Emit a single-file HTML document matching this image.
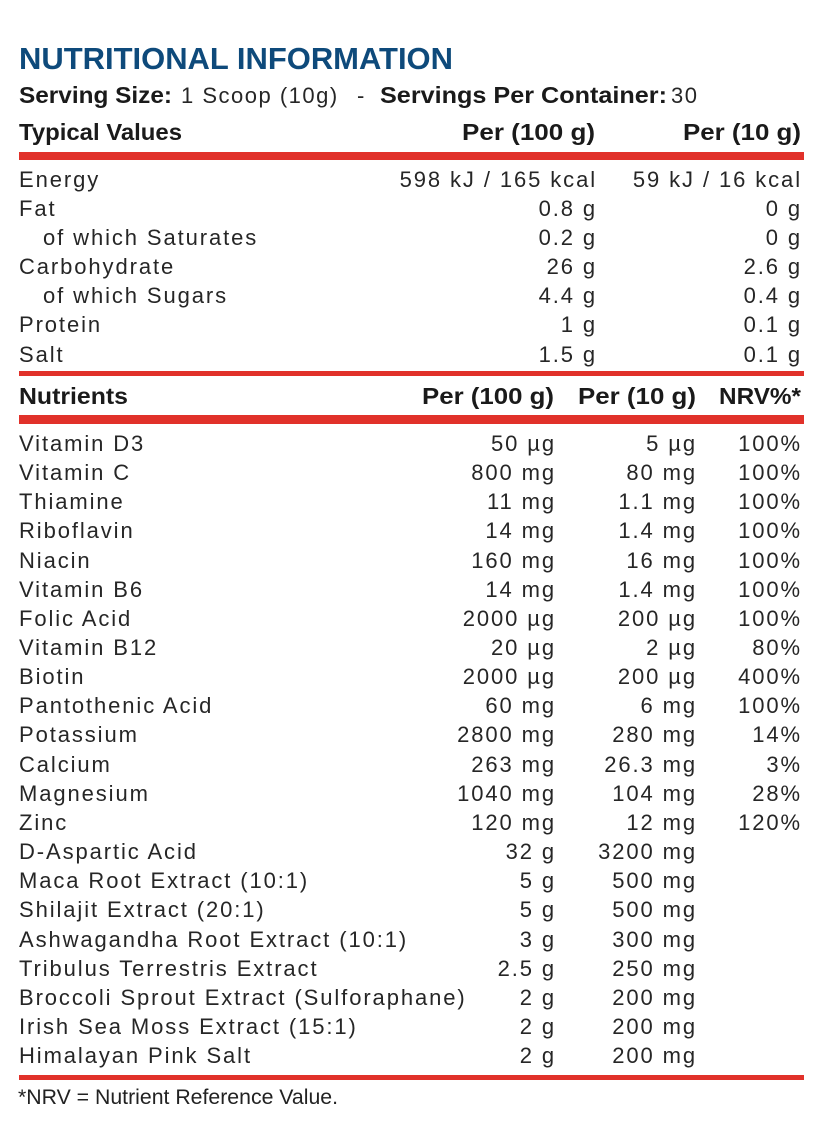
<!DOCTYPE html>
<html><head><meta charset="utf-8"><style>
html,body{margin:0;padding:0;background:#fff;}
svg{display:block;}
.b{font-family:"Liberation Sans",sans-serif;font-weight:bold;fill:#1a1a1a;font-size:23px;}
.r{font-family:"Liberation Sans",sans-serif;fill:#262626;font-size:22px;letter-spacing:1.9px;}
.e{text-anchor:end;}
</style></head><body>
<svg width="840" height="1124" viewBox="0 0 840 1124" xmlns="http://www.w3.org/2000/svg">
<rect width="840" height="1124" fill="#fff"/>
<text x="19" y="69" font-family="Liberation Sans, sans-serif" font-weight="bold" font-size="31" fill="#0e4a7b" textLength="434" lengthAdjust="spacingAndGlyphs">NUTRITIONAL INFORMATION</text>

<text class="b" x="19" y="103" textLength="153" lengthAdjust="spacingAndGlyphs">Serving Size:</text>
<text class="r" x="181" y="103" style="font-size:22px;letter-spacing:1.5px">1 Scoop (10g)</text>
<text class="r" x="357" y="103" style="font-size:22px">-</text>
<text class="b" x="380" y="103" textLength="287" lengthAdjust="spacingAndGlyphs">Servings Per Container:</text>
<text class="r" x="671" y="103" style="font-size:22px;letter-spacing:1.5px">30</text>

<text class="b" x="19" y="140" textLength="163" lengthAdjust="spacingAndGlyphs">Typical Values</text>
<text class="b" x="462" y="140" textLength="133" lengthAdjust="spacingAndGlyphs">Per (100 g)</text>
<text class="b" x="683" y="140" textLength="118" lengthAdjust="spacingAndGlyphs">Per (10 g)</text>
<rect x="19" y="152" width="785" height="8" fill="#e1312a"/>

<g class="r">
<text x="19" y="187">Energy</text><text class="e" x="597" y="187">598 kJ / 165 kcal</text><text class="e" x="802" y="187">59 kJ / 16 kcal</text>
<text x="19" y="216">Fat</text><text class="e" x="597" y="216">0.8 g</text><text class="e" x="802" y="216">0 g</text>
<text x="43" y="245">of which Saturates</text><text class="e" x="597" y="245">0.2 g</text><text class="e" x="802" y="245">0 g</text>
<text x="19" y="274">Carbohydrate</text><text class="e" x="597" y="274">26 g</text><text class="e" x="802" y="274">2.6 g</text>
<text x="43" y="303">of which Sugars</text><text class="e" x="597" y="303">4.4 g</text><text class="e" x="802" y="303">0.4 g</text>
<text x="19" y="332">Protein</text><text class="e" x="597" y="332">1 g</text><text class="e" x="802" y="332">0.1 g</text>
<text x="19" y="362">Salt</text><text class="e" x="597" y="362">1.5 g</text><text class="e" x="802" y="362">0.1 g</text>
</g>
<rect x="19" y="371" width="785" height="5" fill="#e1312a"/>

<text class="b" x="19" y="404" textLength="109" lengthAdjust="spacingAndGlyphs">Nutrients</text>
<text class="b" x="422" y="404" textLength="132" lengthAdjust="spacingAndGlyphs">Per (100 g)</text>
<text class="b" x="578" y="404" textLength="118" lengthAdjust="spacingAndGlyphs">Per (10 g)</text>
<text class="b" x="719" y="404" textLength="82" lengthAdjust="spacingAndGlyphs">NRV%*</text>
<rect x="19" y="415" width="785" height="9" fill="#e1312a"/>

<g class="r">
<text x="19" y="451">Vitamin D3</text><text class="e" x="556" y="451">50 µg</text><text class="e" x="697" y="451">5 µg</text><text class="e" x="802" y="451">100%</text>
<text x="19" y="480">Vitamin C</text><text class="e" x="556" y="480">800 mg</text><text class="e" x="697" y="480">80 mg</text><text class="e" x="802" y="480">100%</text>
<text x="19" y="509">Thiamine</text><text class="e" x="556" y="509">11 mg</text><text class="e" x="697" y="509">1.1 mg</text><text class="e" x="802" y="509">100%</text>
<text x="19" y="538">Riboflavin</text><text class="e" x="556" y="538">14 mg</text><text class="e" x="697" y="538">1.4 mg</text><text class="e" x="802" y="538">100%</text>
<text x="19" y="568">Niacin</text><text class="e" x="556" y="568">160 mg</text><text class="e" x="697" y="568">16 mg</text><text class="e" x="802" y="568">100%</text>
<text x="19" y="597">Vitamin B6</text><text class="e" x="556" y="597">14 mg</text><text class="e" x="697" y="597">1.4 mg</text><text class="e" x="802" y="597">100%</text>
<text x="19" y="626">Folic Acid</text><text class="e" x="556" y="626">2000 µg</text><text class="e" x="697" y="626">200 µg</text><text class="e" x="802" y="626">100%</text>
<text x="19" y="655">Vitamin B12</text><text class="e" x="556" y="655">20 µg</text><text class="e" x="697" y="655">2 µg</text><text class="e" x="802" y="655">80%</text>
<text x="19" y="684">Biotin</text><text class="e" x="556" y="684">2000 µg</text><text class="e" x="697" y="684">200 µg</text><text class="e" x="802" y="684">400%</text>
<text x="19" y="713">Pantothenic Acid</text><text class="e" x="556" y="713">60 mg</text><text class="e" x="697" y="713">6 mg</text><text class="e" x="802" y="713">100%</text>
<text x="19" y="742">Potassium</text><text class="e" x="556" y="742">2800 mg</text><text class="e" x="697" y="742">280 mg</text><text class="e" x="802" y="742">14%</text>
<text x="19" y="772">Calcium</text><text class="e" x="556" y="772">263 mg</text><text class="e" x="697" y="772">26.3 mg</text><text class="e" x="802" y="772">3%</text>
<text x="19" y="801">Magnesium</text><text class="e" x="556" y="801">1040 mg</text><text class="e" x="697" y="801">104 mg</text><text class="e" x="802" y="801">28%</text>
<text x="19" y="830">Zinc</text><text class="e" x="556" y="830">120 mg</text><text class="e" x="697" y="830">12 mg</text><text class="e" x="802" y="830">120%</text>
<text x="19" y="859">D-Aspartic Acid</text><text class="e" x="556" y="859">32 g</text><text class="e" x="697" y="859">3200 mg</text>
<text x="19" y="888">Maca Root Extract (10:1)</text><text class="e" x="556" y="888">5 g</text><text class="e" x="697" y="888">500 mg</text>
<text x="19" y="917">Shilajit Extract (20:1)</text><text class="e" x="556" y="917">5 g</text><text class="e" x="697" y="917">500 mg</text>
<text x="19" y="947">Ashwagandha Root Extract (10:1)</text><text class="e" x="556" y="947">3 g</text><text class="e" x="697" y="947">300 mg</text>
<text x="19" y="976">Tribulus Terrestris Extract</text><text class="e" x="556" y="976">2.5 g</text><text class="e" x="697" y="976">250 mg</text>
<text x="19" y="1005">Broccoli Sprout Extract (Sulforaphane)</text><text class="e" x="556" y="1005">2 g</text><text class="e" x="697" y="1005">200 mg</text>
<text x="19" y="1034">Irish Sea Moss Extract (15:1)</text><text class="e" x="556" y="1034">2 g</text><text class="e" x="697" y="1034">200 mg</text>
<text x="19" y="1063">Himalayan Pink Salt</text><text class="e" x="556" y="1063">2 g</text><text class="e" x="697" y="1063">200 mg</text>
</g>
<rect x="19" y="1075" width="785" height="5" fill="#e1312a"/>

<text x="18" y="1104" font-family="Liberation Sans, sans-serif" font-size="21" fill="#222" textLength="320" lengthAdjust="spacingAndGlyphs">*NRV = Nutrient Reference Value.</text>
</svg>
</body></html>
